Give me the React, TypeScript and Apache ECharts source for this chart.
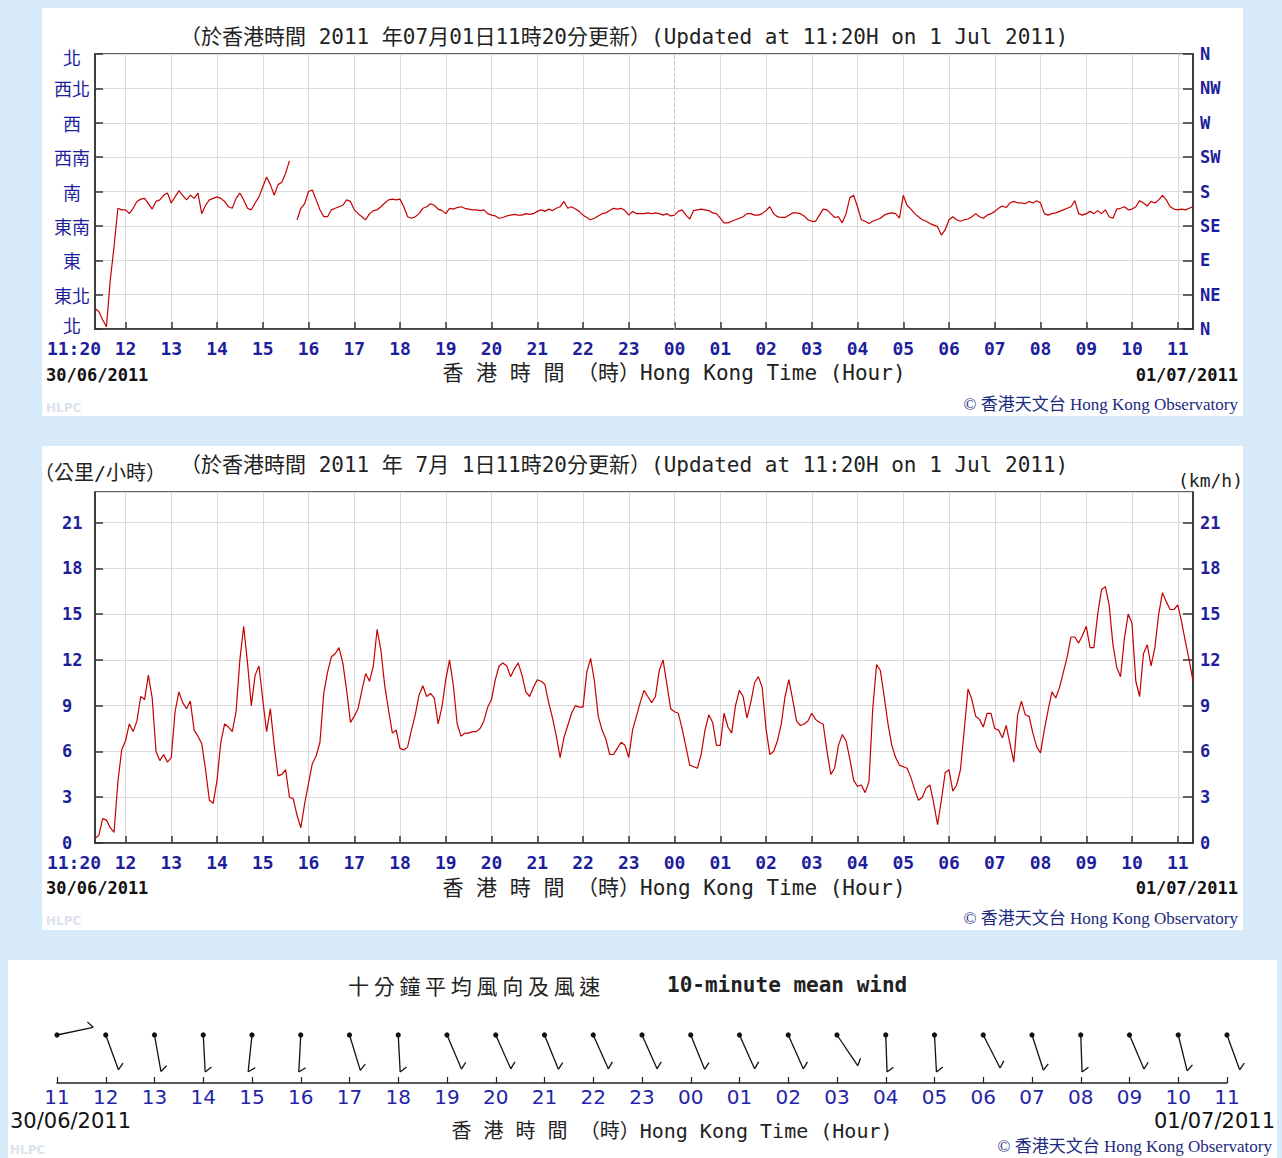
import React, { useEffect, useRef } from "react";
import * as echarts from "echarts";

// ---------- data ----------
const START_MIN = 11 * 60 + 20; // 11:20 on 30/06/2011
const STEP_MIN = 5;
const N_POINTS = 289;
function buildTimes(): string[] {
  const out: string[] = [];
  for (let i = 0; i < N_POINTS; i++) {
    const m = START_MIN + i * STEP_MIN;
    const day = m >= 1440 ? "01" : "30";
    const mm = m % 1440;
    const hh = String(Math.floor(mm / 60)).padStart(2, "0");
    const mi = String(mm % 60).padStart(2, "0");
    out.push(`${day}/${hh}:${mi}`);
  }
  return out;
}
const timeCategories = buildTimes();

// wind direction (degrees), every 5 minutes from 11:20
const windDirection: (number | null)[] = [
  27, 23, 12, 3, 64, 108, 158, 156, 156, 151,
  158, 167, 170, 171, 164, 157, 167, 169, 175, 178,
  165, 173, 181, 175, 169, 175, 171, 178, 151, 162,
  169, 171, 173, 171, 167, 160, 158, 171, 178, 169,
  158, 156, 165, 173, 186, 199, 189, 175, 189, 192,
  204, 220, null, 143, 158, 164, 180, 182, 169, 156,
  147, 147, 156, 158, 160, 162, 169, 167, 156, 151,
  147, 143, 151, 155, 156, 160, 165, 169, 170, 169,
  170, 160, 147, 145, 147, 151, 158, 160, 164, 162,
  157, 155, 151, 158, 157, 159, 160, 158, 157, 156,
  156, 155, 156, 151, 149, 148, 145, 146, 148, 149,
  150, 149, 149, 151, 150, 151, 154, 156, 154, 157,
  155, 158, 160, 167, 158, 160, 157, 154, 149, 146,
  143, 145, 148, 151, 152, 155, 158, 157, 158, 155,
  149, 154, 151, 151, 151, 152, 151, 152, 151, 149,
  151, 148, 149, 154, 156, 149, 144, 155, 156, 157,
  156, 155, 152, 151, 145, 139, 139, 141, 143, 145,
  147, 151, 151, 149, 149, 151, 155, 160, 151, 147,
  146, 146, 149, 152, 152, 151, 148, 143, 141, 141,
  149, 157, 156, 151, 146, 147, 139, 151, 172, 175,
  160, 143, 141, 138, 141, 143, 145, 149, 151, 152,
  151, 145, 175, 162, 157, 151, 147, 143, 141, 138,
  136, 134, 123, 130, 143, 147, 143, 141, 143, 144,
  147, 151, 147, 145, 149, 151, 154, 158, 161, 159,
  165, 167, 165, 165, 164, 167, 165, 168, 165, 151,
  149, 151, 152, 154, 156, 158, 160, 168, 151, 149,
  151, 154, 151, 155, 151, 156, 147, 145, 157, 158,
  160, 156, 157, 160, 168, 165, 161, 167, 165, 169,
  175, 169, 160, 157, 156, 157, 156, 158, 160,
];

// wind speed (km/h), every 5 minutes from 11:20
const windSpeed: number[] = [
  0.3, 0.5, 1.6, 1.5, 1.0, 0.7, 4.0, 6.1, 6.7, 7.8,
  7.3, 8.0, 9.6, 9.4, 11.0, 9.5, 6.0, 5.4, 5.8, 5.3,
  5.6, 8.6, 9.9, 9.2, 8.8, 9.3, 7.4, 7.0, 6.5, 4.8,
  2.8, 2.6, 4.1, 6.6, 7.8, 7.6, 7.3, 8.6, 12.0, 14.2,
  11.8, 9.0, 11.0, 11.6, 9.4, 7.3, 8.8, 6.4, 4.4, 4.5,
  4.8, 3.0, 2.9, 1.8, 1.0, 2.6, 3.9, 5.2, 5.7, 6.6,
  9.8, 11.2, 12.2, 12.4, 12.8, 11.8, 10.0, 7.9, 8.3, 8.8,
  10.0, 11.1, 10.6, 11.6, 14.0, 12.6, 10.3, 8.7, 7.2, 7.4,
  6.2, 6.1, 6.3, 7.4, 8.4, 9.7, 10.3, 9.6, 9.8, 9.5,
  7.8, 8.9, 10.7, 12.0, 10.3, 7.8, 7.0, 7.2, 7.2, 7.3,
  7.3, 7.5, 8.0, 8.9, 9.4, 10.7, 11.6, 11.8, 11.6, 10.9,
  11.4, 11.8, 11.0, 9.9, 9.6, 10.2, 10.7, 10.6, 10.4, 9.2,
  8.2, 7.0, 5.6, 6.9, 7.7, 8.5, 9.0, 8.9, 8.9, 11.2,
  12.1, 10.6, 8.3, 7.4, 6.8, 5.8, 5.8, 6.2, 6.6, 6.4,
  5.6, 7.4, 8.3, 9.2, 10.0, 9.6, 9.2, 9.6, 11.3, 12.0,
  10.4, 8.8, 8.6, 8.5, 7.5, 6.3, 5.1, 5.0, 4.9, 5.8,
  7.4, 8.4, 7.9, 6.4, 6.4, 8.5, 7.6, 7.2, 9.0, 10.0,
  9.6, 8.2, 9.2, 10.5, 10.9, 10.2, 7.5, 5.8, 6.0, 6.7,
  7.8, 9.6, 10.7, 9.4, 8.0, 7.7, 7.8, 8.0, 8.5, 8.1,
  7.9, 7.8, 6.0, 4.5, 4.9, 6.4, 7.1, 6.7, 5.5, 4.1,
  3.7, 3.8, 3.3, 4.0, 8.8, 11.7, 11.3, 9.6, 7.8, 6.4,
  5.6, 5.1, 5.0, 4.9, 4.3, 3.5, 2.8, 3.0, 3.6, 3.8,
  2.6, 1.2, 2.8, 4.6, 4.8, 3.4, 3.8, 4.8, 7.4, 10.1,
  9.4, 8.3, 8.1, 7.6, 8.5, 8.5, 7.5, 7.4, 6.9, 7.7,
  6.5, 5.3, 8.4, 9.3, 8.4, 8.3, 7.2, 6.3, 5.9, 7.4,
  8.7, 9.9, 9.5, 10.2, 11.2, 12.2, 13.5, 13.5, 13.1, 13.6,
  14.2, 12.8, 12.8, 15.0, 16.6, 16.8, 15.6, 13.0, 11.5, 10.9,
  13.4, 15.0, 14.4, 10.6, 9.6, 12.4, 13.0, 11.6, 12.8, 15.0,
  16.4, 15.8, 15.3, 15.3, 15.6, 14.5, 13.2, 12.0, 10.6,
];

const dirLabelsZh = ["北", "東北", "東", "東南", "南", "西南", "西", "西北", "北"];
const dirLabelsEn = ["N", "NE", "E", "SE", "S", "SW", "W", "NW", "N"];

// hourly 10-minute mean wind barbs (hours counted from 00:00 on 30/06)
const barbHours = [11, 12, 13, 14, 15, 16, 17, 18, 19, 20, 21, 22, 23, 24, 25, 26, 27, 28, 29, 30, 31, 32, 33, 34, 35];
const barbDirection = [78, 160, 170, 177, 186, 183, 163, 177, 157, 156, 158, 156, 156, 158, 156, 156, 146, 178, 177, 153, 162, 178, 157, 166, 160];

// ---------- styles ----------
const BLUE = "#1e1e9c";
const BLUE2 = "#2424a8";
const MONO = '"DejaVu Sans Mono", "Noto Sans CJK TC", monospace';
const CJK = '"Noto Sans CJK TC", sans-serif';
const SERIF = '"Liberation Serif", "Noto Sans CJK TC", serif';
const GRIDC = "#dadada";
const AXC = "#333";

const hourTick = (_i: number, v: string) => v.endsWith(":00");

function timeXAxis(gridIndex: number, dashedMidnight: boolean) {
  return {
    type: "category",
    gridIndex,
    data: timeCategories,
    boundaryGap: false,
    axisLine: { show: true, lineStyle: { color: AXC, width: 1.5 } },
    axisTick: { show: true, inside: true, length: 7, interval: hourTick, lineStyle: { color: AXC, width: 1.5 } },
    axisLabel: {
      interval: (i: number, v: string) => i === 0 || v.endsWith(":00"),
      formatter: (v: string, i: number) => (i === 0 ? `{first|${v.slice(3)}}` : `{b|${v.slice(3, 5)}}`),
      margin: 10,
      color: BLUE,
      rich: {
        first: { fontFamily: MONO, fontWeight: "bold", fontSize: 18, color: BLUE, padding: [0, 42, 0, 0] },
        b: { fontFamily: MONO, fontWeight: "bold", fontSize: 18, color: BLUE },
      },
    },
    splitLine: {
      show: true,
      interval: (i: number, v: string) => hourTick(i, v) && !(dashedMidnight && v === "01/00:00"),
      lineStyle: { color: GRIDC, width: 1 },
    },
  };
}

const txt = (x: number, y: number, text: string, font: string, fill: string, align = "left") => ({
  type: "text",
  x,
  y,
  silent: true,
  style: { text, font, fill, textAlign: align, textVerticalAlign: "middle" },
});

const zhLabelStyle = { fontFamily: CJK, fontSize: 18, color: BLUE };

const option: any = {
  animation: false,
  backgroundColor: "transparent",
  grid: [
    { left: 95, top: 54, width: 1098, height: 275, show: true, borderColor: AXC, borderWidth: 1.5, backgroundColor: "#fff" },
    { left: 95, top: 492, width: 1098, height: 351, show: true, borderColor: AXC, borderWidth: 1.5, backgroundColor: "#fff" },
    { left: 57, top: 1035, width: 1170, height: 48, show: false },
  ],
  xAxis: [
    timeXAxis(0, true),
    timeXAxis(1, false),
    {
      type: "value",
      gridIndex: 2,
      min: 11,
      max: 35,
      interval: 1,
      axisLine: { show: true, lineStyle: { color: "#222", width: 1.5 } },
      axisTick: { show: true, inside: true, length: 6, lineStyle: { color: "#222", width: 1.2 } },
      axisLabel: {
        formatter: (v: number) => String(v % 24).padStart(2, "0"),
        fontFamily: '"DejaVu Sans", sans-serif',
        fontSize: 20,
        color: BLUE2,
        margin: 4,
      },
      splitLine: { show: false },
    },
  ],
  yAxis: [
    {
      type: "value", gridIndex: 0, min: 0, max: 360, interval: 45, position: "left",
      axisLine: { show: true, lineStyle: { color: AXC, width: 1.5 } },
      axisTick: { show: true, inside: true, length: 8, lineStyle: { color: AXC, width: 1.5 } },
      axisLabel: {
        formatter: (v: number) => {
          const k = Math.round(v / 45);
          if (k === 0) return `{low|${dirLabelsZh[k]}}`;
          if (k === 8) return `{high|${dirLabelsZh[k]}}`;
          return `{n|${dirLabelsZh[k]}}`;
        },
        align: "center",
        margin: 23,
        color: BLUE,
        rich: {
          n: zhLabelStyle,
          low: { ...zhLabelStyle, padding: [0, 0, 8, 0] },
          high: { ...zhLabelStyle, padding: [5, 0, 0, 0] },
        },
      },
      splitLine: { show: true, lineStyle: { color: GRIDC, width: 1 } },
    },
    {
      type: "value", gridIndex: 0, min: 0, max: 360, interval: 45, position: "right",
      axisLine: { show: true, lineStyle: { color: AXC, width: 1.5 } },
      axisTick: { show: true, inside: true, length: 10, lineStyle: { color: AXC, width: 1.5 } },
      axisLabel: { formatter: (v: number) => dirLabelsEn[Math.round(v / 45)], margin: 7, fontFamily: MONO, fontWeight: "bold", fontSize: 17, color: BLUE },
      splitLine: { show: false },
    },
    {
      type: "value", gridIndex: 1, min: 0, max: 23, interval: 3, position: "left",
      axisLine: { show: true, lineStyle: { color: AXC, width: 1.5 } },
      axisTick: { show: true, inside: true, length: 8, lineStyle: { color: AXC, width: 1.5 } },
      axisLabel: { showMaxLabel: false, align: "left", margin: 33, fontFamily: MONO, fontWeight: "bold", fontSize: 17, color: BLUE },
      splitLine: { show: true, lineStyle: { color: GRIDC, width: 1 } },
    },
    {
      type: "value", gridIndex: 1, min: 0, max: 23, interval: 3, position: "right",
      axisLine: { show: true, lineStyle: { color: AXC, width: 1.5 } },
      axisTick: { show: true, inside: true, length: 10, lineStyle: { color: AXC, width: 1.5 } },
      axisLabel: { showMaxLabel: false, margin: 7, fontFamily: MONO, fontWeight: "bold", fontSize: 17, color: BLUE },
      splitLine: { show: false },
    },
    { type: "value", gridIndex: 2, min: 0, max: 1, show: false },
  ],
  series: [
    {
      type: "line",
      xAxisIndex: 0,
      yAxisIndex: 0,
      data: windDirection,
      showSymbol: false,
      symbol: "none",
      connectNulls: false,
      lineStyle: { color: "#c40000", width: 1.2 },
      markLine: {
        silent: true,
        symbol: ["none", "none"],
        label: { show: false },
        lineStyle: { type: "dashed", color: "#c4c4c4", width: 1 },
        data: [{ xAxis: "01/00:00" }],
      },
      z: 3,
    },
    {
      type: "line",
      xAxisIndex: 1,
      yAxisIndex: 2,
      data: windSpeed,
      showSymbol: false,
      symbol: "none",
      lineStyle: { color: "#c40000", width: 1.2 },
      z: 3,
    },
    {
      type: "custom",
      xAxisIndex: 2,
      yAxisIndex: 4,
      clip: false,
      data: barbHours.map((h, i) => [h, 1, barbDirection[i]]),
      encode: { x: 0, y: 1 },
      renderItem: (_params: any, api: any) => {
        const p = api.coord([api.value(0), api.value(1)]);
        const dir = api.value(2);
        const L = 37;
        const r = (dir * Math.PI) / 180;
        const ex = p[0] + L * Math.sin(r);
        const ey = p[1] - L * Math.cos(r);
        const fr = ((dir - 125) * Math.PI) / 180;
        const fx = ex + 8 * Math.sin(fr);
        const fy = ey - 8 * Math.cos(fr);
        return {
          type: "group",
          children: [
            { type: "line", shape: { x1: p[0], y1: p[1], x2: ex, y2: ey }, style: { stroke: "#111", lineWidth: 1.3 } },
            { type: "line", shape: { x1: ex, y1: ey, x2: fx, y2: fy }, style: { stroke: "#111", lineWidth: 1.3 } },
            { type: "circle", shape: { cx: p[0], cy: p[1], r: 2.6 }, style: { fill: "#111" } },
          ],
        };
      },
    },
  ],
  graphic: [
    // top panel
    txt(180, 37, "（於香港時間 2011 年07月01日11時20分更新）(Updated at 11:20H on 1 Jul 2011)", `21px ${MONO}`, "#222"),
    txt(46, 375, "30/06/2011", `bold 17px ${MONO}`, "#111"),
    txt(1238, 375, "01/07/2011", `bold 17px ${MONO}`, "#111", "right"),
    txt(674, 373, "香 港 時 間 （時）Hong Kong Time (Hour)", `21px ${MONO}`, "#222", "center"),
    txt(1238, 404, "© 香港天文台 Hong Kong Observatory", `17px ${SERIF}`, "#1c2a80", "right"),
    txt(46, 408, "HLPC", `bold 12px "DejaVu Sans", sans-serif`, "#dde3ec"),
    // middle panel
    txt(34, 473, "（公里/小時）", `20px ${MONO}`, "#222"),
    txt(180, 465, "（於香港時間 2011 年 7月 1日11時20分更新）(Updated at 11:20H on 1 Jul 2011)", `21px ${MONO}`, "#222"),
    txt(1243, 480, "(km/h)", `18px ${MONO}`, "#222", "right"),
    txt(46, 888, "30/06/2011", `bold 17px ${MONO}`, "#111"),
    txt(1238, 888, "01/07/2011", `bold 17px ${MONO}`, "#111", "right"),
    txt(674, 888, "香 港 時 間 （時）Hong Kong Time (Hour)", `21px ${MONO}`, "#222", "center"),
    txt(1238, 918, "© 香港天文台 Hong Kong Observatory", `17px ${SERIF}`, "#1c2a80", "right"),
    txt(46, 921, "HLPC", `bold 12px "DejaVu Sans", sans-serif`, "#dde3ec"),
    // bottom panel
    txt(348, 985, "十 分 鐘 平 均 風 向 及 風 速", `21px ${CJK}`, "#222"),
    txt(667, 985, "10-minute mean wind", `bold 21px ${MONO}`, "#222"),
    txt(10, 1121, "30/06/2011", `21px "DejaVu Sans", sans-serif`, "#111"),
    txt(1275, 1121, "01/07/2011", `21px "DejaVu Sans", sans-serif`, "#111", "right"),
    txt(672, 1131, "香 港 時 間 （時）Hong Kong Time (Hour)", `20px ${MONO}`, "#222", "center"),
    txt(1272, 1146, "© 香港天文台 Hong Kong Observatory", `17px ${SERIF}`, "#1c2a80", "right"),
    txt(10, 1150, "HLPC", `bold 12px "DejaVu Sans", sans-serif`, "#dde3ec"),
  ],
};

const panels = [
  { left: 42, top: 8, width: 1201, height: 408 },
  { left: 42, top: 446, width: 1201, height: 484 },
  { left: 8, top: 960, width: 1269, height: 198 },
];

export default function App() {
  const ref = useRef<HTMLDivElement>(null);
  useEffect(() => {
    if (!ref.current) return;
    const chart = echarts.init(ref.current, null, { renderer: "svg" });
    chart.setOption(option);
    return () => chart.dispose();
  }, []);
  return (
    <div style={{ position: "absolute", left: 0, top: 0, width: 1282, height: 1158, background: "#d6eafa", overflow: "hidden" }}>
      {panels.map((p, i) => (
        <div key={i} style={{ position: "absolute", left: p.left, top: p.top, width: p.width, height: p.height, background: "#fff" }} />
      ))}
      <div ref={ref} style={{ position: "absolute", left: 0, top: 0, width: 1282, height: 1158 }} />
    </div>
  );
}
